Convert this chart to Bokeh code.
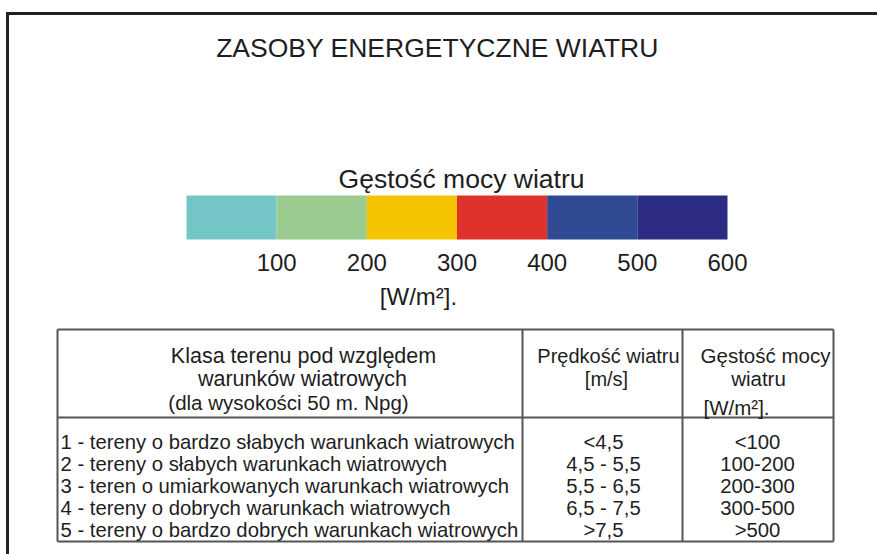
from bokeh.plotting import figure
from bokeh.models import Range1d, ColumnDataSource
from bokeh.core.properties import value
from bokeh.embed import file_html
from bokeh.resources import INLINE

# ---------------- data ----------------
title = "ZASOBY ENERGETYCZNE WIATRU"
scale_title = "Gęstość mocy wiatru"
scale_unit = "[W/m²]."
bounds = [0, 100, 200, 300, 400, 500, 600]
seg_colors = ["#74C5C6", "#9BCB8F", "#F5C400", "#E0312D", "#2F4A92", "#2C2D82"]
tick_values = [100, 200, 300, 400, 500, 600]
tick_labels = ["100", "200", "300", "400", "500", "600"]

hdr_col1 = ["Klasa terenu pod względem", "warunków wiatrowych", "(dla wysokości 50 m. Npg)"]
hdr_col2 = ["Prędkość wiatru", "[m/s]"]
hdr_col3 = ["Gęstość mocy", "wiatru", "[W/m²]."]
classes = [
    "1 - tereny o bardzo słabych warunkach wiatrowych",
    "2 - tereny o słabych warunkach wiatrowych",
    "3 - teren o umiarkowanych warunkach wiatrowych",
    "4 - tereny o dobrych warunkach wiatrowych",
    "5 - tereny o bardzo dobrych warunkach wiatrowych",
]
speeds = ["<4,5", "4,5 - 5,5", "5,5 - 6,5", "6,5 - 7,5", ">7,5"]
densities = ["<100", "100-200", "200-300", "300-500", ">500"]

# ---------------- layout ----------------
W, H = 877, 554
FONT = value("Liberation Sans")
TXT = "#1e1e1e"

# colour scale: value 0 at px 186, value 600 at px 727
bar_l, bar_r = 186, 727
k = (bar_r - bar_l) / (bounds[-1] - bounds[0])
xs = bounds[0] - bar_l / k
xe = xs + W / k

p = figure(width=W, height=H, x_range=Range1d(xs, xe), y_range=Range1d(H, 0),
           output_backend="svg", toolbar_location=None, min_border=0,
           x_axis_location=None, y_axis_location=None)
p.grid.visible = False
p.outline_line_color = None
p.background_fill_color = "white"
p.border_fill_color = "white"
p.extra_x_ranges = {"px": Range1d(0, W)}

# outer frame (top and left edges)
p.segment(x0=[5.5, 7], y0=[13, 13], x1=[W, 7], y1=[13, H], line_color="#222222",
          line_width=3, x_range_name="px")

# title
p.text(x=[437], y=[47], text=[title], text_font=FONT, text_font_size="26.5px",
       text_align="center", text_baseline="middle", text_color=TXT, x_range_name="px")

# colour scale
src = ColumnDataSource(dict(left=bounds[:-1], right=bounds[1:], color=seg_colors))
p.quad(left="left", right="right", top=195, bottom=239, fill_color="color",
       line_color=None, source=src)
p.text(x=[461], y=[178], text=[scale_title], text_font=FONT, text_font_size="26.5px",
       text_align="center", text_baseline="middle", text_color=TXT, x_range_name="px")
p.text(x=tick_values, y=[262] * len(tick_values), text=tick_labels, text_font=FONT,
       text_font_size="24px", text_align="center", text_baseline="middle", text_color=TXT)
p.text(x=[418], y=[296], text=[scale_unit], text_font=FONT, text_font_size="24px",
       text_align="center", text_baseline="middle", text_color=TXT, x_range_name="px")

# table frame
tl, tr, tt, tb = 57, 833, 329, 541
c1, c2, hs = 522, 682, 417
p.segment(x0=[tl, tl, tl, tr, c1, c2, tl], y0=[tt, tb, tt, tt, tt, tt, hs],
          x1=[tr, tr, tl, tr, c1, c2, tr], y1=[tt, tb, tb, tb, tb, tb, hs],
          line_color="#555555", line_width=2, x_range_name="px")

# header
p.text(x=[303, 302], y=[355, 378], text=hdr_col1[:2], text_font=FONT,
       text_font_size="21.5px", text_align="center", text_baseline="middle",
       text_color=TXT, x_range_name="px")
p.text(x=[288], y=[402], text=hdr_col1[2:], text_font=FONT,
       text_font_size="20.5px", text_align="center", text_baseline="middle",
       text_color=TXT, x_range_name="px")
p.text(x=[608, 606], y=[355, 378], text=hdr_col2, text_font=FONT, text_font_size="20px",
       text_align="center", text_baseline="middle", text_color=TXT, x_range_name="px")
p.text(x=[765, 758, 736], y=[355, 378, 407], text=hdr_col3, text_font=FONT,
       text_font_size="20.5px", text_align="center", text_baseline="middle",
       text_color=TXT, x_range_name="px")

# rows
ry = [441 + 22.2 * i for i in range(len(classes))]
p.text(x=[60] * len(classes), y=ry, text=classes, text_font=FONT, text_font_size="20.3px",
       text_align="left", text_baseline="middle", text_color=TXT, x_range_name="px")
p.text(x=[603] * len(speeds), y=ry, text=speeds, text_font=FONT, text_font_size="20.3px",
       text_align="center", text_baseline="middle", text_color=TXT, x_range_name="px")
p.text(x=[757] * len(densities), y=ry, text=densities, text_font=FONT,
       text_font_size="20.3px", text_align="center", text_baseline="middle",
       text_color=TXT, x_range_name="px")

open("out.html", "w").write(file_html(p, INLINE))
